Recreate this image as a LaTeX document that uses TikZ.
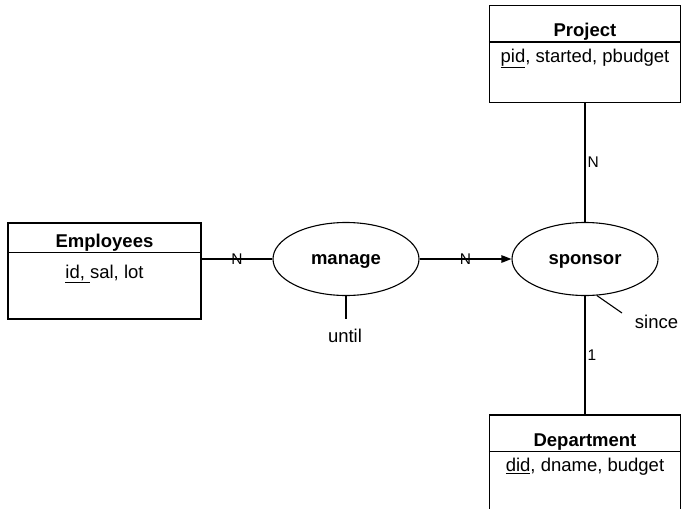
\documentclass[tikz,border=0pt]{standalone}
\usepackage{fontspec}
\setmainfont{Liberation Sans}
\usetikzlibrary{shapes.geometric, arrows.meta, positioning}

\begin{document}
\begin{tikzpicture}[x=1pt, y=-1pt, line width=1.1pt, font=\fontsize{18.5}{22}\selectfont,
		entity/.style={draw, minimum width=191pt, minimum height=97pt, inner sep=0pt},
		relation/.style={draw, ellipse, minimum width=146pt, minimum height=73pt, inner sep=0pt, text height=15pt, text depth=4pt, font=\fontsize{18.5}{22}\selectfont\bfseries},
		card/.style={inner sep=2pt, font=\fontsize{15.5}{18}\selectfont},
		title/.style={anchor=base, font=\fontsize{18.5}{22}\selectfont\bfseries},
		attr/.style={anchor=base}]

		\clip (0,0) rectangle (681,509);

		\node[entity, minimum width=193pt, minimum height=96pt] (emp) at (104.5,271) {};
		\draw ([yshift=-30pt]emp.north west) -- ([yshift=-30pt]emp.north east);
		\node[title] (empTitle) at ([yshift=-25pt]emp.north) {Employees};
		\node[attr] (empAttr) at ([yshift=-55.7pt]emp.north) {\underline{id,~}sal, lot};

		\node[entity] (proj) at (585,54) {};
		\draw ([yshift=-37pt]proj.north west) -- ([yshift=-37pt]proj.north east);
		\node[title] (projTitle) at ([yshift=-31.5pt]proj.north) {Project};
		\node[attr] (projAttr) at ([yshift=-57.3pt]proj.north) {\underline{pid}, started, pbudget};

		\node[entity] (dept) at (585,463.5) {};
		\draw ([yshift=-37pt]dept.north west) -- ([yshift=-37pt]dept.north east);
		\node[title] (deptTitle) at ([yshift=-32pt]dept.north) {Department};
		\node[attr] (deptAttr) at ([yshift=-57pt]dept.north) {\underline{did}, dname, budget};

		\node[relation] (manage) at (346,259) {manage};
		\node[relation] (sponsor) at (585,259) {sponsor};

		\coordinate (untilEnd) at (346,319);
		\coordinate (sinceEnd) at (622,313);

		\draw (manage.south) -- (untilEnd);
		\node[attr] (until) at (345,342) {until};

		\draw (sponsor.-72) -- (sinceEnd);
		\node[attr] (since) at (656.5,328) {since};

		\draw (emp.east |- manage.west) -- (manage.west) node[card, midway] {N};
		\draw[-{Triangle[length=10pt,width=7.5pt]}] (manage.east) -- (sponsor.west) node[card, midway] {N};
		\draw (proj.south) -- (sponsor.north) node[card, midway, right] {N};
		\draw (sponsor.south) -- (dept.north) node[card, midway, right] {1};

	\end{tikzpicture}
\end{document}
